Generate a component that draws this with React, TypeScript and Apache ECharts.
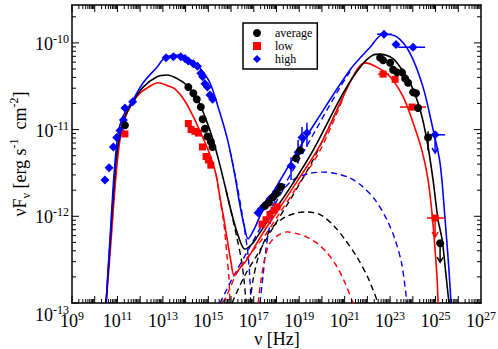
import React, { useEffect, useRef } from 'react';
import * as echarts from 'echarts';

const FONT = "'Liberation Serif', 'Times New Roman', serif";

// All values are log10(nu / Hz) and log10(nuFnu / erg s^-1 cm^-2)
const X_MIN = 9;
const X_MAX = 27;
const Y_MIN = -13;
const Y_MAX = -9.563;

// ---- observed data points ----
const avgData: number[][] = [
  [11.33, -10.95], [14.12, -10.51], [14.34, -10.58], [14.49, -10.65], [14.67, -10.74],
  [14.75, -10.88], [14.85, -10.99], [14.96, -11.08], [15.11, -11.14], [15.18, -11.2],
  [17.49, -11.88], [17.67, -11.84], [17.85, -11.78], [18.02, -11.73], [18.2, -11.66],
  [18.86, -11.33], [19.04, -11.24],
  [22.56, -10.17], [22.69, -10.2], [23.0, -10.23], [23.13, -10.31], [23.3, -10.34],
  [23.52, -10.34], [23.66, -10.41], [23.79, -10.46], [24.01, -10.57], [24.14, -10.58],
  [24.23, -10.75], [24.67, -11.09], [25.2, -12.31],
];
const lowData: number[][] = [
  [11.33, -11.05], [14.12, -10.93], [14.24, -11.0], [14.41, -11.02], [14.56, -11.04],
  [14.74, -11.2], [14.9, -11.31], [15.0, -11.35], [15.11, -11.41],
  [17.36, -12.09], [17.54, -12.04], [17.71, -11.98], [17.89, -11.93], [18.02, -11.89],
  [22.69, -10.36], [23.22, -10.42], [23.97, -10.74], [24.98, -12.02],
];
const highData: number[][] = [
  [10.45, -11.58], [10.63, -11.44], [10.82, -11.2], [10.97, -11.09], [11.11, -11.01],
  [11.26, -10.89], [11.33, -10.75], [11.67, -10.68], [13.14, -10.17], [13.46, -10.16],
  [13.79, -10.16], [13.97, -10.18], [14.12, -10.21], [14.34, -10.24], [14.52, -10.27],
  [14.67, -10.35], [14.75, -10.39], [14.85, -10.47], [14.96, -10.51], [15.07, -10.6],
  [15.19, -10.65],
  [17.19, -11.96], [17.32, -11.92], [17.45, -11.88], [17.58, -11.85], [17.71, -11.8],
  [17.85, -11.77], [17.98, -11.72], [18.11, -11.67],
  [18.64, -11.42], [18.95, -11.26], [19.12, -11.09], [19.34, -11.04],
  [22.73, -9.9], [23.26, -10.02], [24.01, -10.05], [24.98, -11.06],
];

// error bars: [x, y, xLow, xHigh, yLow, yHigh, upperLimit]
const avgErr: number[][] = [
  [24.67, -11.09, 24.67, 24.67, -11.24, -11.02, 0],
  [25.2, -12.31, 25.2, 25.2, -12.53, -12.31, 1],
];
const lowErr: number[][] = [
  [22.69, -10.36, 22.47, 22.95, -10.36, -10.36, 0],
  [23.97, -10.74, 23.44, 24.58, -10.74, -10.74, 0],
  [24.98, -12.02, 24.62, 25.42, -12.24, -12.02, 1],
];
const highErr: number[][] = [
  [18.64, -11.42, 18.64, 18.64, -11.58, -11.32, 0],
  [18.95, -11.26, 18.95, 18.95, -11.39, -11.12, 0],
  [19.12, -11.09, 19.12, 19.12, -11.2, -10.97, 0],
  [19.34, -11.04, 19.34, 19.34, -11.2, -10.92, 0],
  [22.73, -9.9, 22.42, 23.08, -9.9, -9.9, 0],
  [24.01, -10.05, 23.35, 24.54, -10.05, -10.05, 0],
  [24.98, -11.06, 24.76, 25.42, -11.27, -11.06, 1],
];

// ---- model curves (total, solid) ----
const highTotal: number[][] = [
  [10.5, -13], [10.67, -12.27], [10.85, -11.52], [11.02, -11.06], [11.24, -10.85],
  [11.68, -10.66], [12.13, -10.46], [12.74, -10.28], [13.09, -10.17], [13.67, -10.14],
  [14.19, -10.19], [14.63, -10.29], [15.07, -10.46], [15.43, -10.74], [15.82, -11.09],
  [16.13, -11.47], [16.39, -11.87], [16.57, -12.1], [16.75, -12.26], [17.05, -12.13],
  [17.36, -11.95], [18.15, -11.59], [18.9, -11.26], [19.78, -10.89], [21.24, -10.31],
  [22.12, -10.05], [22.69, -9.9], [23.3, -9.93], [23.88, -10.12], [24.45, -10.51],
  [24.89, -11.0], [25.2, -11.39], [25.42, -12.04], [25.59, -12.62], [25.68, -13],
];
const avgTotal: number[][] = [
  [10.5, -13], [10.67, -12.33], [10.85, -11.64], [11.02, -11.18], [11.33, -10.85],
  [11.68, -10.68], [12.13, -10.51], [12.74, -10.39], [13.18, -10.37], [13.62, -10.41],
  [14.06, -10.49], [14.5, -10.64], [14.85, -10.85], [15.21, -11.12], [15.51, -11.41],
  [15.78, -11.7], [16.04, -11.98], [16.31, -12.22], [16.61, -12.38], [16.92, -12.32],
  [17.14, -12.24], [17.85, -11.96], [18.6, -11.67], [19.61, -11.24], [20.93, -10.58],
  [21.68, -10.28], [22.25, -10.14], [22.56, -10.13], [23.0, -10.16], [23.3, -10.23],
  [23.88, -10.46], [24.32, -10.77], [24.62, -11.12], [24.89, -11.58], [25.11, -12.04],
  [25.29, -12.27], [25.46, -12.68], [25.59, -13],
];
const lowTotal: number[][] = [
  [10.5, -13], [10.67, -12.45], [10.85, -11.81], [10.98, -11.41], [11.11, -11.12],
  [11.33, -10.87], [11.64, -10.7], [11.99, -10.58], [12.43, -10.5], [12.79, -10.46],
  [13.18, -10.49], [13.53, -10.53], [13.97, -10.67], [14.41, -10.89], [14.77, -11.1],
  [15.07, -11.29], [15.34, -11.52], [15.51, -11.78], [15.69, -12.04], [15.87, -12.33],
  [16.0, -12.53], [16.13, -12.68], [16.39, -12.6], [16.7, -12.5], [17.41, -12.19],
  [18.15, -11.9], [18.9, -11.6], [19.92, -11.18], [20.93, -10.62], [21.54, -10.31],
  [21.9, -10.23], [22.42, -10.28], [23.0, -10.39], [23.57, -10.62], [24.01, -10.92],
  [24.4, -11.24], [24.67, -11.58], [24.85, -11.98], [24.98, -12.39], [25.07, -12.73],
  [25.11, -13],
];

// ---- model components (dashed) ----
const highSyn: number[][] = [
  [15.95, -11.24], [16.22, -11.58], [16.44, -11.9], [16.61, -12.18], [16.75, -12.45],
  [16.83, -12.73], [16.88, -13],
];
const avgSyn: number[][] = [
  [15.78, -11.7], [16.04, -11.99], [16.26, -12.25], [16.44, -12.48], [16.57, -12.73],
  [16.66, -13],
];
const lowSyn: number[][] = [
  [15.34, -11.52], [15.51, -11.79], [15.69, -12.1], [15.82, -12.45], [15.91, -12.73],
  [15.95, -13],
];
const highEC: number[][] = [
  [15.51, -13], [16.09, -12.7], [16.75, -12.39], [17.36, -12.1], [18.15, -11.73],
  [18.9, -11.39], [19.78, -10.98], [20.8, -10.51], [21.24, -10.33],
];
const avgEC: number[][] = [
  [16.04, -13], [16.61, -12.68], [17.14, -12.45], [17.85, -12.13], [18.6, -11.81],
  [19.61, -11.35], [20.49, -10.87], [21.02, -10.57],
];
const lowEC: number[][] = [
  [15.65, -13], [15.95, -12.83], [16.26, -12.65], [16.7, -12.48], [17.41, -12.25],
  [18.15, -11.96], [18.9, -11.66], [19.92, -11.24], [20.93, -10.64],
];
const highSSC: number[][] = [
  [17.27, -13], [17.41, -12.68], [17.54, -12.37], [17.71, -12.1], [17.93, -11.87],
  [18.29, -11.7], [18.73, -11.58], [19.39, -11.51], [20.05, -11.49], [20.66, -11.51],
  [21.24, -11.56], [21.76, -11.65], [22.34, -11.81], [22.86, -12.04], [23.22, -12.27],
  [23.52, -12.56], [23.74, -13],
];
const avgSSC: number[][] = [
  [16.83, -13], [16.97, -12.73], [17.19, -12.48], [17.49, -12.27], [17.85, -12.12],
  [18.38, -12.01], [18.9, -11.96], [19.34, -11.95], [19.92, -11.98], [20.49, -12.1],
  [21.02, -12.27], [21.54, -12.47], [22.03, -12.71], [22.47, -13],
];
const lowSSC: number[][] = [
  [17.19, -13], [17.32, -12.73], [17.49, -12.48], [17.71, -12.31], [18.07, -12.22],
  [18.46, -12.18], [18.9, -12.2], [19.34, -12.24], [19.78, -12.31], [20.22, -12.42],
  [20.66, -12.58], [21.02, -12.77], [21.37, -13],
];

const BLACK = '#000000';
const RED = '#ff0000';
const BLUE = '#0000ff';

function isInt(v: number) {
  return Math.abs(v - Math.round(v)) < 1e-6;
}

function buildTicks(lo: number, hi: number): number[][] {
  const out: number[][] = [];
  for (let d = Math.ceil(lo); d < hi; d++) {
    for (let k = 1; k <= 9; k++) {
      const v = d + Math.log10(k);
      if (v >= lo - 1e-9 && v <= hi + 1e-9) out.push([v, k === 1 ? 1 : 0]);
    }
  }
  return out;
}

export default function App() {
  const ref = useRef<HTMLDivElement>(null);

  useEffect(() => {
    if (!ref.current) return;
    const chart = echarts.init(ref.current, undefined, { renderer: 'svg' });

    const xTicks = buildTicks(X_MIN, X_MAX);
    const yTicks = buildTicks(Y_MIN, Y_MAX);
    const MAJOR = 7;
    const MINOR = 4;
    const tickStyle = { stroke: BLACK, lineWidth: 1 };

    const solid = (name: string, data: number[][], color: string) => ({
      name,
      type: 'line',
      data,
      showSymbol: false,
      symbol: 'none',
      smooth: 0.3,
      lineStyle: { color, width: 1.6 },
      z: 3,
      silent: true,
    });
    const dashed = (name: string, data: number[][], color: string) => ({
      name,
      type: 'line',
      data,
      showSymbol: false,
      symbol: 'none',
      smooth: 0.3,
      lineStyle: { color, width: 1.4, type: [6, 4] },
      z: 2,
      silent: true,
    });
    const errSeries = (name: string, data: number[][], color: string) => ({
      name,
      type: 'custom',
      data,
      z: 4,
      silent: true,
      renderItem: (_p: any, api: any) => {
        const x = api.value(0), y = api.value(1);
        const xl = api.value(2), xh = api.value(3);
        const yl = api.value(4), yh = api.value(5);
        const ul = api.value(6);
        const style = { stroke: color, lineWidth: 1.5 };
        const children: any[] = [];
        if (xh > xl) {
          const a = api.coord([xl, y]);
          const b = api.coord([xh, y]);
          children.push({ type: 'line', shape: { x1: a[0], y1: a[1], x2: b[0], y2: b[1] }, style });
        }
        if (yh > yl) {
          const a = api.coord([x, yl]);
          const b = api.coord([x, yh]);
          children.push({ type: 'line', shape: { x1: a[0], y1: a[1], x2: b[0], y2: b[1] }, style });
          if (ul) {
            children.push({
              type: 'polyline',
              shape: { points: [[a[0] - 3, a[1] - 5], [a[0], a[1]], [a[0] + 3, a[1] - 5]] },
              style: { stroke: color, lineWidth: 1.5, fill: 'none' },
            });
          }
        }
        return { type: 'group', children };
      },
    });
    const scatter = (name: string, data: number[][], color: string, symbol: string, size: number) => ({
      name,
      type: 'scatter',
      data,
      symbol,
      symbolSize: size,
      itemStyle: { color, opacity: 1 },
      z: 5,
      silent: true,
    });

    const labelRich = {
      b: { fontSize: 18, fontFamily: FONT, color: BLACK, lineHeight: 20, verticalAlign: 'bottom' },
      s: { fontSize: 12, fontFamily: FONT, color: BLACK, lineHeight: 10, verticalAlign: 'top' },
      g: { fontSize: 2, lineHeight: 22 },
    };
    const expLabel = (v: number) => `{b|10}{s|${Math.round(v)}}`;

    const axisLine = { show: true, lineStyle: { color: BLACK, width: 1.5 } };

    chart.setOption({
      animation: false,
      backgroundColor: '#ffffff',
      textStyle: { fontFamily: FONT },
      grid: { left: 72, right: 17, top: 5, bottom: 46, containLabel: false, outerBoundsMode: 'none' },
      graphic: [
        {
          type: 'text',
          x: 277,
          y: 339,
          silent: true,
          style: {
            text: 'ν [Hz]',
            fill: BLACK,
            font: `18px ${FONT}`,
            align: 'center',
            verticalAlign: 'middle',
            textAlign: 'center',
            textVerticalAlign: 'middle',
          },
        },
      ],
      legend: {
        data: [
          { name: 'average', icon: 'circle' },
          { name: 'low', icon: 'rect' },
          { name: 'high', icon: 'diamond' },
        ],
        orient: 'vertical',
        left: 243,
        top: 23,
        itemWidth: 8,
        itemHeight: 8,
        itemGap: 1,
        padding: [4, 5, 4, 10],
        borderColor: BLACK,
        borderWidth: 1.5,
        borderRadius: 0,
        backgroundColor: '#ffffff',
        selectedMode: false,
        textStyle: { fontFamily: FONT, fontSize: 12, color: BLACK, lineHeight: 12, padding: [0, 0, 0, 9] },
      },
      xAxis: [
        {
          type: 'value',
          min: X_MIN,
          max: X_MAX,
          interval: 1,
          position: 'bottom',
          axisLine,
          axisTick: { show: false },
          splitLine: { show: false },
          axisLabel: {
            margin: 7,
            formatter: (v: number) => (isInt(v) && Math.round(v) % 2 !== 0 ? expLabel(v) : ''),
            rich: labelRich,
          },
        },
        {
          type: 'value',
          min: X_MIN,
          max: X_MAX,
          position: 'top',
          axisLine,
          axisTick: { show: false },
          axisLabel: { show: false },
          splitLine: { show: false },
        },
      ],
      yAxis: [
        {
          type: 'value',
          min: Y_MIN,
          max: Y_MAX,
          interval: 1,
          position: 'left',
          axisLine,
          axisTick: { show: false },
          splitLine: { show: false },
          axisLabel: {
            margin: 3,
            formatter: (v: number) => {
              if (!isInt(v)) return '';
              const n = Math.round(v);
              if (n === -13) return `{g| }\n${expLabel(n)}`;
              return expLabel(n);
            },
            rich: labelRich,
          },
          name: '{t|νF}{sub|ν}{t| [erg s}{sup|-1}{t|  cm}{sup|-2}{t|]}',
          nameLocation: 'middle',
          nameRotate: 90,
          nameGap: 40,
          nameMoveOverlap: false,
          nameTextStyle: {
            rich: {
              t: { fontSize: 18, fontFamily: FONT, color: BLACK, lineHeight: 24, verticalAlign: 'middle' },
              sub: { fontSize: 12, fontFamily: FONT, color: BLACK, lineHeight: 10, verticalAlign: 'bottom' },
              sup: { fontSize: 12, fontFamily: FONT, color: BLACK, lineHeight: 10, verticalAlign: 'top' },
            },
          },
        },
        {
          type: 'value',
          min: Y_MIN,
          max: Y_MAX,
          position: 'right',
          axisLine,
          axisTick: { show: false },
          axisLabel: { show: false },
          splitLine: { show: false },
        },
      ],
      series: [
        {
          name: 'xticks',
          type: 'custom',
          data: xTicks,
          silent: true,
          z: 6,
          renderItem: (_p: any, api: any) => {
            const v = api.value(0);
            const len = api.value(1) ? MAJOR : MINOR;
            const b = api.coord([v, Y_MIN]);
            const t = api.coord([v, Y_MAX]);
            return {
              type: 'group',
              children: [
                { type: 'line', shape: { x1: b[0], y1: b[1], x2: b[0], y2: b[1] - len }, style: tickStyle },
                { type: 'line', shape: { x1: t[0], y1: t[1], x2: t[0], y2: t[1] + len }, style: tickStyle },
              ],
            };
          },
        },
        {
          name: 'yticks',
          type: 'custom',
          data: yTicks.map((d) => [X_MIN, d[0], d[1]]),
          silent: true,
          z: 6,
          renderItem: (_p: any, api: any) => {
            const v = api.value(1);
            const len = api.value(2) ? MAJOR : MINOR;
            const l = api.coord([X_MIN, v]);
            const r = api.coord([X_MAX, v]);
            return {
              type: 'group',
              children: [
                { type: 'line', shape: { x1: l[0], y1: l[1], x2: l[0] + len, y2: l[1] }, style: tickStyle },
                { type: 'line', shape: { x1: r[0], y1: r[1], x2: r[0] - len, y2: r[1] }, style: tickStyle },
              ],
            };
          },
        },
        dashed('highSyn', highSyn, BLUE),
        dashed('avgSyn', avgSyn, BLACK),
        dashed('lowSyn', lowSyn, RED),
        dashed('highEC', highEC, BLUE),
        dashed('avgEC', avgEC, BLACK),
        dashed('lowEC', lowEC, RED),
        dashed('highSSC', highSSC, BLUE),
        dashed('avgSSC', avgSSC, BLACK),
        dashed('lowSSC', lowSSC, RED),
        solid('lowTotal', lowTotal, RED),
        solid('avgTotal', avgTotal, BLACK),
        solid('highTotal', highTotal, BLUE),
        errSeries('avgErr', avgErr, BLACK),
        errSeries('lowErr', lowErr, RED),
        errSeries('highErr', highErr, BLUE),
        scatter('high', highData, BLUE, 'diamond', 9),
        scatter('low', lowData, RED, 'rect', 7),
        scatter('average', avgData, BLACK, 'circle', 8),
      ],
    });

    return () => chart.dispose();
  }, []);

  return (
    <div
      ref={ref}
      style={{ position: 'fixed', left: 0, top: 0, width: 498, height: 349, background: '#fff' }}
    />
  );
}
